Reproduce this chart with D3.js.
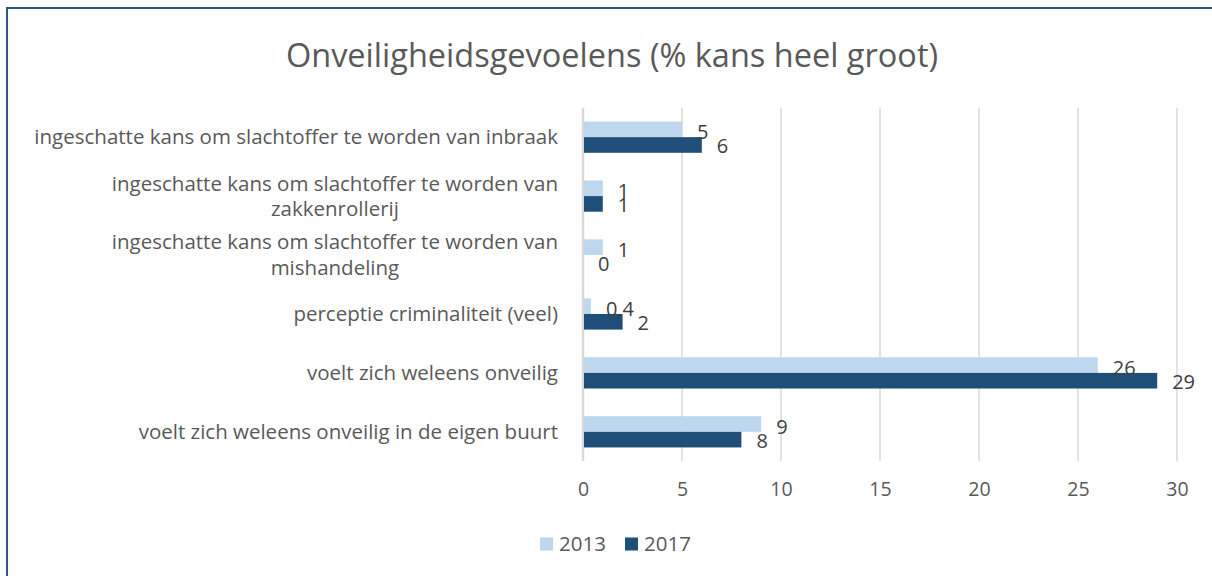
<!DOCTYPE html>
<html>
<head>
<meta charset="utf-8">
<script src="https://cdn.jsdelivr.net/npm/d3@7"></script>
<style>
  body { margin: 0; background: #fff; }
  svg { display: block; font-family: "Open Sans", sans-serif; }
</style>
</head>
<body>
<div id="chart"></div>
<script>
const categories = [
  ["ingeschatte kans om slachtoffer te worden van inbraak"],
  ["ingeschatte kans om slachtoffer te worden van", "zakkenrollerij"],
  ["ingeschatte kans om slachtoffer te worden van", "mishandeling"],
  ["perceptie criminaliteit (veel)"],
  ["voelt zich weleens onveilig"],
  ["voelt zich weleens onveilig in de eigen buurt"]
];
const years = ["2013", "2017"];
const values2013 = [5, 1, 1, 0.4, 26, 9];
const values2017 = [6, 1, 0, 2, 29, 8];
const xTicks = [0, 5, 10, 15, 20, 25, 30];
const colors = ["#bdd7ee", "#1f4e79"];

const W = 1212, H = 576;
const plot = { left: 583, right: 1177, top: 108, bottom: 461 };

const svg = d3.select("#chart").append("svg")
  .attr("width", W).attr("height", H);

// outer frame (right and bottom edges fall outside the window)
svg.append("rect")
  .attr("x", 7).attr("y", 8)
  .attr("width", W + 20).attr("height", H + 20)
  .attr("fill", "none")
  .attr("stroke", "#2a5783")
  .attr("stroke-width", 2);

svg.append("text")
  .attr("x", 612).attr("y", 67)
  .attr("text-anchor", "middle")
  .attr("font-size", 32.5)
  .attr("fill", "#595959")
  .text("Onveiligheidsgevoelens (% kans heel groot)");

const x = d3.scaleLinear().domain([0, 30]).range([plot.left, plot.right]);
const y = d3.scaleBand().domain(d3.range(categories.length))
  .range([plot.top, plot.bottom]).paddingInner(0.47).paddingOuter(0.23);
const sub = d3.scaleBand().domain(years).range([0, y.bandwidth()]);

// gridlines
svg.append("g")
  .selectAll("line")
  .data(xTicks)
  .join("line")
  .attr("x1", d => x(d)).attr("x2", d => x(d))
  .attr("y1", plot.top).attr("y2", plot.bottom)
  .attr("stroke", "#d9d9d9")
  .attr("stroke-width", d => d === 0 ? 2.5 : 1.5);

// x axis tick labels
const xAxis = svg.append("g")
  .attr("transform", `translate(0,${plot.bottom})`)
  .call(d3.axisBottom(x).tickValues(xTicks).tickSize(0).tickPadding(21));
xAxis.select(".domain").remove();
xAxis.selectAll("text")
  .attr("font-family", "Open Sans, sans-serif")
  .attr("font-size", 19.5)
  .attr("fill", "#595959");

const rows = categories.map((c, i) => ({ i, label: c, v: [values2013[i], values2017[i]] }));
const bars = [];
rows.forEach(r => years.forEach((yr, k) => bars.push({ i: r.i, year: yr, k, value: r.v[k] })));

svg.append("g")
  .selectAll("rect")
  .data(bars)
  .join("rect")
  .attr("x", x(0) + 1)
  .attr("y", d => y(d.i) + sub(d.year))
  .attr("width", d => Math.max(0, x(d.value) - x(0) - 1))
  .attr("height", sub.bandwidth())
  .attr("fill", d => colors[d.k]);

// value labels
svg.append("g")
  .selectAll("text")
  .data(bars)
  .join("text")
  .attr("x", d => x(d.value) + 15)
  .attr("y", d => y(d.i) + sub(d.year) + sub.bandwidth() / 2 + (d.k === 0 ? 3 : 1))
  .attr("dy", "0.35em")
  .attr("font-size", 20)
  .attr("fill", "#404040")
  .text(d => String(d.value).replace(".", ","));

// category labels: block right-aligned, lines centred within block
const catG = svg.append("g").attr("font-size", 20.5).attr("fill", "#595959");
const labelRight = 558;
rows.forEach(r => {
  const g = catG.append("g");
  const texts = r.label.map(line => g.append("text").text(line));
  const widths = texts.map(t => t.node().getComputedTextLength());
  const blockW = d3.max(widths);
  const lineH = 25.5;
  const cy = y(r.i) + y.bandwidth() / 2;
  const y0 = cy - (r.label.length - 1) * lineH / 2;
  texts.forEach((t, j) => {
    t.attr("x", labelRight - blockW / 2)
      .attr("text-anchor", "middle")
      .attr("y", y0 + j * lineH)
      .attr("dy", "0.35em");
  });
});

// legend
const legend = svg.append("g").attr("transform", "translate(540,544)");
const items = legend.selectAll("g")
  .data(years)
  .join("g")
  .attr("transform", (d, i) => `translate(${i * 85},0)`);
items.append("rect")
  .attr("x", 0).attr("y", -6.5)
  .attr("width", 13).attr("height", 13)
  .attr("fill", (d, i) => colors[i]);
items.append("text")
  .attr("x", 19).attr("dy", "0.35em")
  .attr("font-size", 20.5)
  .attr("fill", "#595959")
  .text(d => d);
</script>
</body>
</html>
